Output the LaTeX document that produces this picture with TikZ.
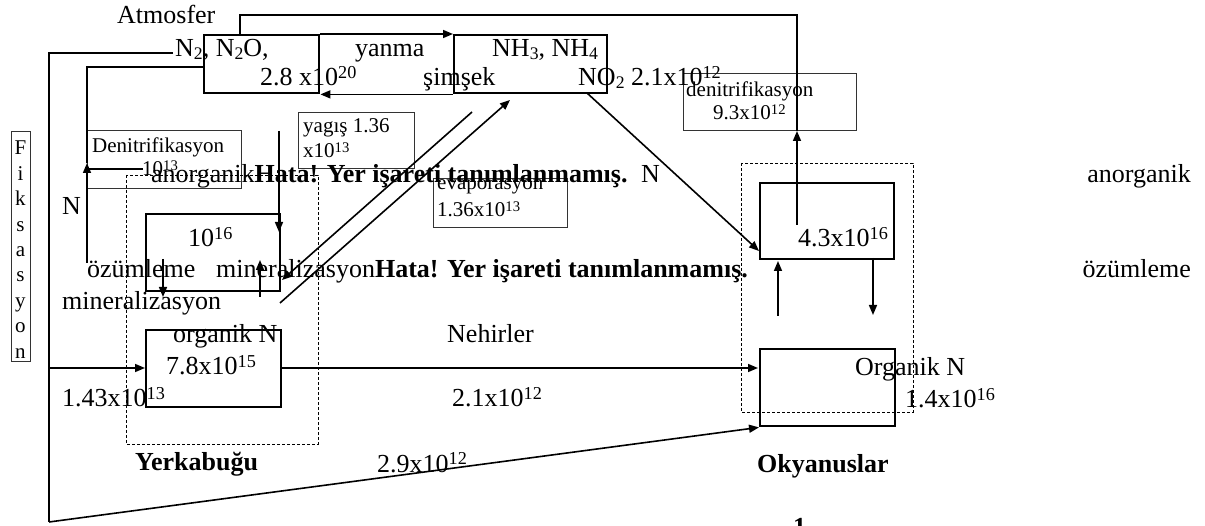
\documentclass[tikz,border=0pt]{standalone}
\usepackage{fontspec}
\setmainfont{Liberation Serif}
\usepackage{graphicx}
\usetikzlibrary{arrows.meta,calc}
\newcommand{\mysup}[1]{\raisebox{0.28em}{\scalebox{0.7}{#1}}}
\newcommand{\mysub}[1]{\raisebox{-0.1em}{\scalebox{0.68}{#1}}}
\tikzset{
  big/.style={font=\fontsize{26}{30}\selectfont, inner sep=0pt, anchor=base west},
  bigb/.style={font=\fontsize{26}{30}\selectfont\bfseries, inner sep=0pt, anchor=base west},
  small/.style={font=\fontsize{21}{25}\selectfont, inner sep=0pt, anchor=base west},
  thinbox/.style={draw=black!80, line width=0.9pt},
  dbox/.style={draw, line width=0.9pt, dash pattern=on 3pt off 2pt},
  thickbox/.style={draw, line width=2.4pt},
  arr/.style={line width=1.6pt, -{Triangle[length=10pt,width=8pt]}},
  heavy/.style={line width=2.6pt},
}
\begin{document}
\begin{tikzpicture}[x=1pt,y=-1pt]
\useasboundingbox (0,0) rectangle (1205,526);
% ---------- thin label boxes
\draw[thinbox] (87,130) rectangle (241,188);
\draw[thinbox] (298,112) rectangle (414,168);
\draw[thinbox] (433,178) rectangle (567,227);
\draw[thinbox] (683,73) rectangle (856,130);
\draw[thinbox] (11,131) rectangle (30,361);
% ---------- dashed region boxes
\draw[dbox] (126,175) rectangle (318,444);
\draw[dbox] (741,163) rectangle (913,412);
% ---------- main boxes
\node[thickbox, minimum width=115pt, minimum height=58pt, anchor=north west, inner sep=0pt] (atmL) at (203,34) {};
\node[thickbox, minimum width=153pt, minimum height=58pt, anchor=north west, inner sep=0pt] (atmR) at (453,34) {};
\node[thickbox, minimum width=134pt, minimum height=77pt, anchor=north west, inner sep=0pt] (inL) at (145,213) {};
\node[thickbox, minimum width=135pt, minimum height=77pt, anchor=north west, inner sep=0pt] (orL) at (145,329) {};
\node[thickbox, minimum width=134pt, minimum height=76pt, anchor=north west, inner sep=0pt] (inO) at (759,182) {};
\node[thickbox, minimum width=135pt, minimum height=77pt, anchor=north west, inner sep=0pt] (orO) at (759,348) {};
% ---------- coordinates
\coordinate (topA) at (240,15);
\coordinate (topB) at (797,15);
\coordinate (denRb) at (797,131);
\coordinate (inOsrc) at (797,225);
\coordinate (dlA) at (87,67);
\coordinate (dlB) at (87,163);
\coordinate (dlC) at (87,263);
\coordinate (dlD) at (143,169);
\coordinate (dlE) at (87,169);
\coordinate (fxA) at (173,53);
\coordinate (fxB) at (49,53);
\coordinate (fxC) at (49,522);
\coordinate (fxM) at (49,368);
\coordinate (rvA) at (280,368);
\coordinate (rvB) at (758,368);
\coordinate (ygA) at (279,131);
\coordinate (ygB) at (279,232);
\coordinate (ozA) at (163,259);
\coordinate (ozB) at (163,297);
\coordinate (mnA) at (260,297);
\coordinate (mnB) at (260,260);
\coordinate (rnA) at (472,112);
\coordinate (rnB) at (282,280);
\coordinate (evA) at (280,303);
\coordinate (evB) at (510,100);
\coordinate (noA) at (587,93);
\coordinate (noB) at (759,251);
\coordinate (ouA) at (778,316);
\coordinate (ouB) at (778,261);
\coordinate (odA) at (873,258);
\coordinate (odB) at (873,315);
% ---------- connectors
\draw[arr] (atmL.north east) -- (atmR.north west);
\draw[arr] (atmR.south west) -- (atmL.south east);
\draw[arr] (inOsrc) -- (denRb);
\draw[heavy] (denRb) -- (topB) -- (topA) -- (topA |- atmL.north);
\draw[arr] (dlC) -- (dlB);
\draw[line width=1.6pt] (dlB) -- (dlA) -- (atmL.west |- dlA);
\draw[heavy] (dlD) -- (dlE);
\draw[line width=2.8pt] (fxA) -- (fxB) -- (fxC);
\draw[arr] (fxM) -- (orL.west |- fxM);
\draw[arr] (fxC) -- (orO.south west);
\draw[arr] (rvA) -- (rvB);
\draw[arr] (ygA) -- (ygB);
\draw[arr] (ozA) -- (ozB);
\draw[arr] (mnA) -- (mnB);
\draw[arr] (rnA) -- (rnB);
\draw[arr] (evA) -- (evB);
\draw[arr] (noA) -- (noB);
\draw[arr] (ouA) -- (ouB);
\draw[arr] (odA) -- (odB);
% ---------- texts (big)
\node[big] (t1) at (117,24) {Atmosfer};
\node[big] (t2) at (175,57) {N\mysub{2}, N\mysub{2}O,};
\node[big] (t3) at (355,57) {yanma};
\node[big] (t4) at (492,57) {NH\mysub{3}, NH\mysub{4}};
\node[big] (t5) at (260,86) {2.8 x10\mysup{20}};
\node[big] (t6) at (423,86) {şimşek};
\node[big] (t7) at (578,86) {NO\mysub{2} 2.1x10\mysup{12}};
\node[big] (t8) at (151,183) {anorganik\textbf{Hata! Yer işareti tanımlanmamış.}};
\node[big] (t10) at (641,183) {N};
\node[big, anchor=base east] (t11) at (1191,183) {anorganik};
\node[big] (t12) at (62,215) {N};
\node[big] (t13) at (188,247) {10\mysup{16}};
\node[big] (t14) at (798,247) {4.3x10\mysup{16}};
\node[big] (t15) at (87,278) {özümleme};
\node[big] (t16) at (216,278) {mineralizasyon\textbf{Hata! Yer işareti tanımlanmamış.}};
\node[big, anchor=base east] (t18) at (1191,278) {özümleme};
\node[big] (t19) at (62,310) {mineralizasyon};
\node[big] (t20) at (173,343) {organik N};
\node[big] (t21) at (447,343) {Nehirler};
\node[big] (t22) at (166,375) {7.8x10\mysup{15}};
\node[big] (t23) at (855,376) {Organik N};
\node[big] (t24) at (62,407) {1.43x10\mysup{13}};
\node[big] (t25) at (452,407) {2.1x10\mysup{12}};
\node[big] (t26) at (905,408) {1.4x10\mysup{16}};
\node[bigb] (t27) at (135,471) {Yerkabuğu};
\node[big] (t28) at (377,472) {2.9x10\mysup{12}};
\node[bigb] (t29) at (757,472) {Okyanuslar};
\node[bigb] (t30) at (793,535) {1};
% ---------- texts (small)
\node[small] (s1) at (92,153) {Denitrifikasyon};
\node[small] (s2) at (142,176) {10\mysup{13}};
\node[small] (s3) at (303,133) {yagış 1.36};
\node[small] (s4) at (303,158) {x10\mysup{13}};
\node[small] (s5) at (437,190) {evaporasyon};
\node[small] (s6) at (437,217) {1.36x10\mysup{13}};
\node[small] (s7) at (686,97) {denitrifikasyon};
\node[small] (s8) at (713,120) {9.3x10\mysup{12}};
\foreach \ch [count=\i from 0] in {F,i,k,s,a,s,y,o,n}
  \node[small, anchor=base] (f\i) at (20.5,155+25.4*\i) {\ch};
\end{tikzpicture}
\end{document}
